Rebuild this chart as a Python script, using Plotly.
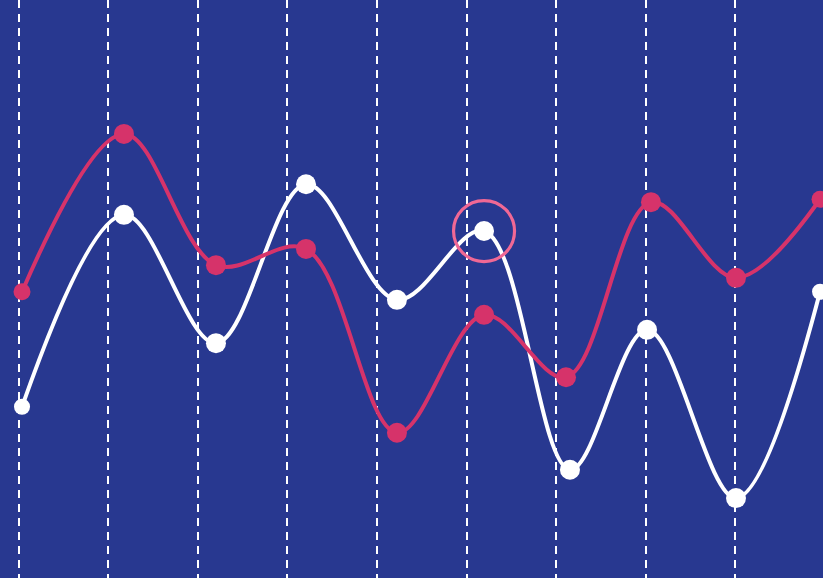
import plotly.graph_objects as go

# Data (x in gridline units, y on a 0-100 scale)
white_x = [0.034, 1.173, 2.201, 3.207, 4.223, 5.196, 6.156, 7.017, 8.011, 8.950]
white_y = [29.8, 63.0, 40.8, 68.3, 48.3, 60.2, 18.9, 43.1, 14.0, 49.7]
pink_x = [0.034, 1.173, 2.201, 3.207, 4.223, 5.196, 6.112, 7.061, 8.011, 8.950]
pink_y = [49.7, 77.0, 54.3, 57.1, 25.3, 45.7, 34.9, 65.2, 52.1, 65.7]
highlight_index = 5

BG = "#283890"
PINK = "#d6336a"
HIGHLIGHT = "#f06895"

white_sizes = [16] + [20] * (len(white_x) - 2) + [16]
pink_sizes = [17] + [20] * (len(pink_x) - 2) + [17]

fig = go.Figure()
fig.add_trace(go.Scatter(
    x=white_x, y=white_y, mode="lines+markers",
    line=dict(color="white", width=4, shape="spline", smoothing=1),
    marker=dict(color="white", size=white_sizes, opacity=1,
                line=dict(width=0)),
    hoverinfo="skip", showlegend=False,
))
fig.add_trace(go.Scatter(
    x=pink_x, y=pink_y, mode="lines+markers",
    line=dict(color=PINK, width=4, shape="spline", smoothing=1),
    marker=dict(color=PINK, size=pink_sizes, opacity=1,
                line=dict(width=0)),
    hoverinfo="skip", showlegend=False,
))
fig.add_trace(go.Scatter(
    x=[white_x[highlight_index]], y=[white_y[highlight_index]], mode="markers",
    marker=dict(symbol="circle-open", size=61, color=HIGHLIGHT, opacity=1,
                line=dict(color=HIGHLIGHT, width=3.2)),
    hoverinfo="skip", showlegend=False,
))

fig.update_layout(
    width=823, height=578,
    margin=dict(l=0, r=0, t=0, b=0),
    paper_bgcolor=BG, plot_bgcolor=BG,
    xaxis=dict(range=[-0.212, 8.983], tick0=0, dtick=1, showgrid=True,
               gridcolor="white", gridwidth=2, griddash="8px,6px",
               zeroline=False, showticklabels=False, ticks="", showline=False),
    yaxis=dict(range=[0.17, 100.17], showgrid=False, zeroline=False,
               showticklabels=False, ticks="", showline=False),
)

fig.write_html(
    "out.html",
    config={"displayModeBar": False},
    post_script="document.body.style.margin='0';document.body.style.overflow='hidden';",
)
